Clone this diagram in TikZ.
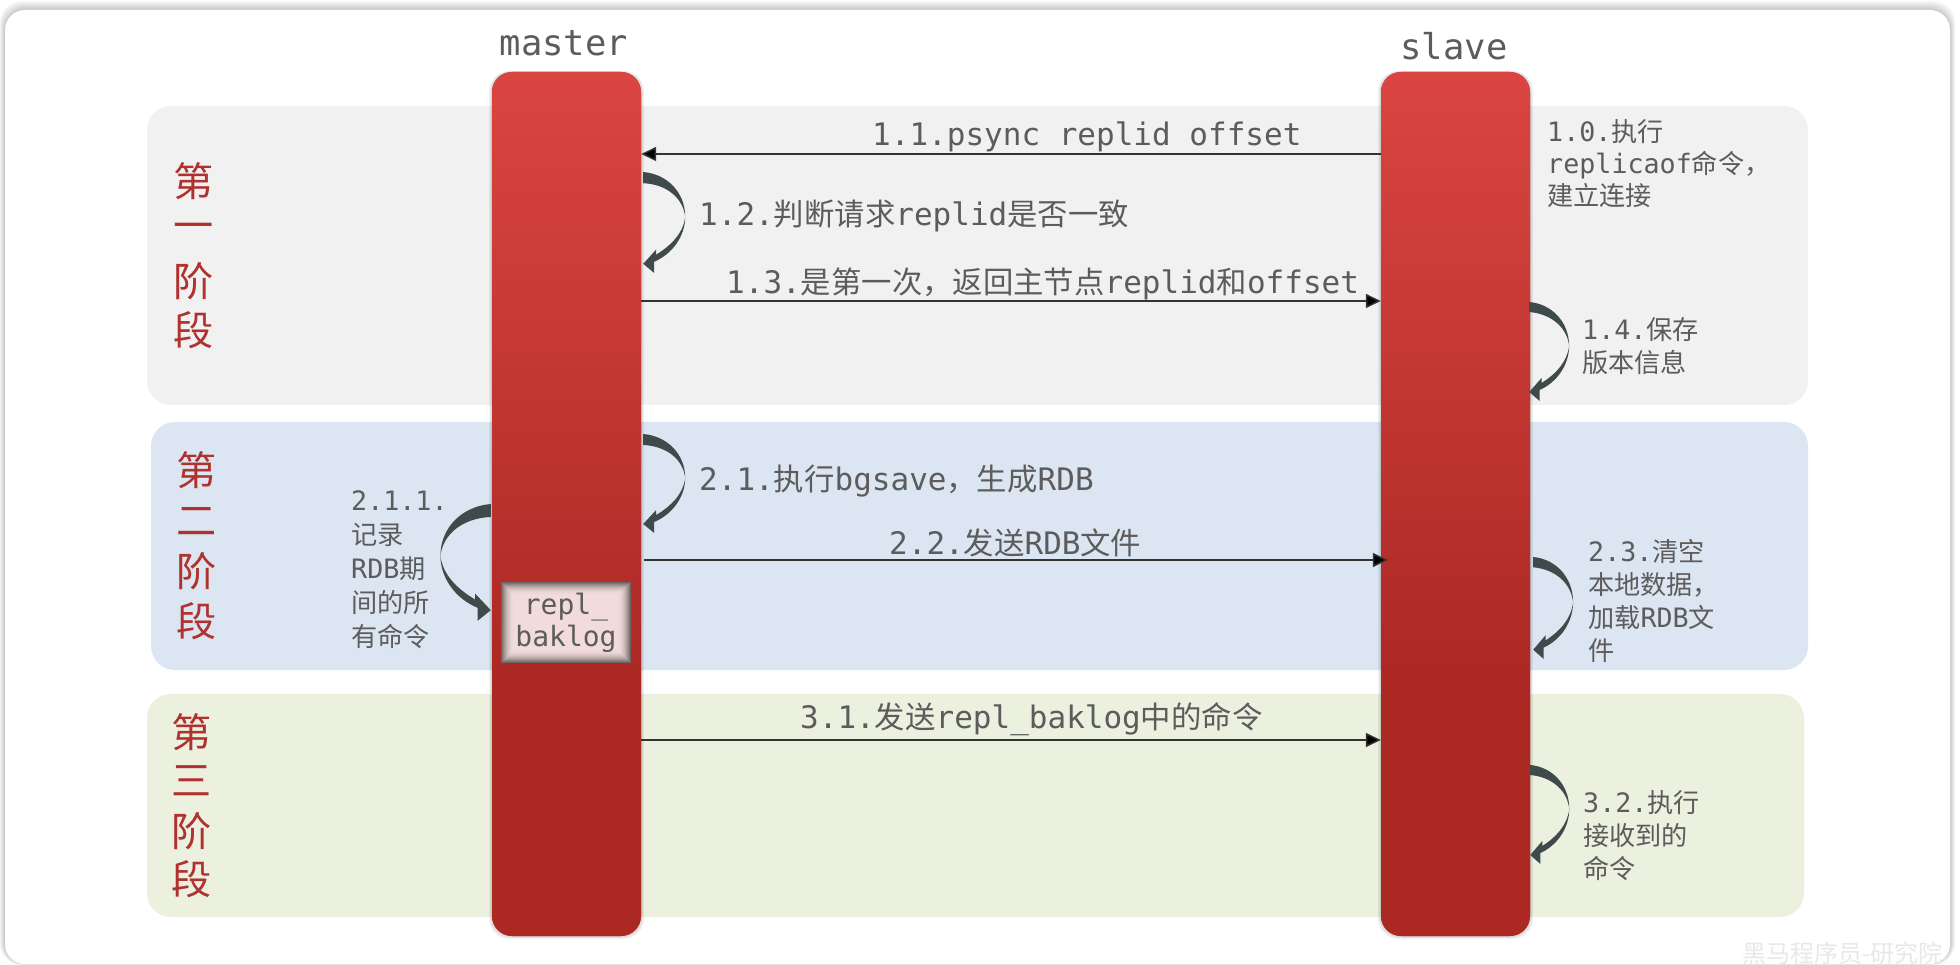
\documentclass[tikz,border=0pt]{standalone}
\usepackage{fontspec}
\setmainfont{DejaVu Sans Mono}
\newfontfamily\cjkf[Scale=0.98]{Noto Sans CJK SC}
\usetikzlibrary{arrows.meta,calc}
\newcommand\zh[1]{{\cjkf #1}}
\definecolor{bartop}{HTML}{DA4541}
\definecolor{barbot}{HTML}{AB2823}
\definecolor{barmid}{HTML}{C0352F}
\definecolor{txtgrey}{HTML}{5C5C5C}
\definecolor{stagered}{HTML}{B0322E}
\definecolor{loopdark}{HTML}{3F4B4A}
\definecolor{pinkfill}{HTML}{F2DCDB}
\definecolor{pinkedge}{HTML}{6E6462}
\definecolor{panelgrey}{HTML}{F1F1F1}
\definecolor{panelblue}{HTML}{DCE6F2}
\definecolor{panelgreen}{HTML}{EBF0DF}
\pgfdeclareverticalshading{barshade}{100bp}{color(0bp)=(barbot); color(39bp)=(barbot); color(75bp)=(bartop); color(100bp)=(bartop)}
\tikzset{
  panel/.style={fill=#1,rounded corners=24pt,draw=none},
  barnode/.style={shading=barshade,rounded corners=20pt,minimum width=149pt,minimum height=864pt,inner sep=0pt,draw=none},
  flow/.style={draw=black!80,line width=1.5pt,-{Triangle[length=15pt,width=14pt,fill=black]}},
  biglabel/.style={inner sep=0pt,anchor=base west,text=txtgrey,font=\fontsize{31}{36}\selectfont},
  sidelabel/.style={inner sep=0pt,anchor=north west,text=txtgrey,align=left,font=\fontsize{26.7}{33}\selectfont},
  headlabel/.style={inner sep=0pt,anchor=base,text=txtgrey,font=\fontsize{35.5}{40}\selectfont},
  stagechar/.style={inner sep=0pt,text=stagered,font=\cjkf\fontsize{41}{44}\selectfont},
  loopfill/.style={fill=loopdark,draw=none}
}
\newcommand\looparrow[4]{% origin coordinate, xscale, yscale
  \fill[loopfill,shift={(#1)},xscale=#2,yscale=#3]
    (0,0) .. controls (24,2) and (42,20) .. (42,44)
    .. controls (42,62) and (30,80) .. (11,88)
    -- (11,99) -- (0,90) -- (13,76) -- (13,81)
    .. controls (28,72) and (40,60) .. (42,44)
    .. controls (40,26) and (24,12) .. (0,#4) -- cycle;}
\begin{document}
\begin{tikzpicture}[x=1pt,y=-1pt]
\useasboundingbox (0,0) rectangle (1960,965);
\fill[white] (0,0) rectangle (1960,965);
% card shadow and card
\foreach \i in {0,...,9}{
  \fill[black,opacity=.022,rounded corners=22pt] ({5-\i*.6},{10-\i}) rectangle ({1950+\i*.6},{964+\i*.1});
}
\fill[white,rounded corners=20pt] (5,10) rectangle (1950,964);
% panels
\fill[panel=panelgrey] (147,106) rectangle (1808,405);
\fill[panel=panelblue] (151,422) rectangle (1808,670);
\fill[panel=panelgreen] (147,694) rectangle (1804,917);
% bar shadows and bar underlays
\foreach \x in {492,1381}{
  \foreach \i in {1,...,3}{
    \fill[black,opacity=.05,rounded corners=20pt] ({\x-\i},{72-\i*.3}) rectangle ({\x+149+\i},{936+\i});
  }
  \fill[barmid,rounded corners=20pt] (\x,72) rectangle ({\x+149},936);
}
% bars
\node[barnode] (master) at (566.5,504) {};
\node[barnode] (slave) at (1455.5,504) {};
\node[headlabel] (masterlabel) at (564,56) {master};
\node[headlabel] (slavelabel) at (1454,60) {slave};
% replication backlog
\node[inner sep=0pt,minimum width=130pt,minimum height=81pt,align=center,text=txtgrey,
  font=\fontsize{28}{33}\selectfont,
  path picture={
    \fill[pinkedge] (path picture bounding box.north west) rectangle (path picture bounding box.south east);
    \foreach \i in {1,...,13}{
      \pgfmathsetmacro\m{100*(1-(1-\i/13)*(1-\i/13))}
      \fill[pinkfill!\m!pinkedge] ($(path picture bounding box.north west)+(\i,\i)$) rectangle ($(path picture bounding box.south east)+(-\i,-\i)$);
    }
  }] (repl) at (566,622.5) {\raisebox{-3pt}{repl\_}\\\raisebox{-2pt}{baklog}};
% coordinates of connector heights
\coordinate (y11) at (0,154);
\coordinate (y13) at (0,301);
\coordinate (y22) at (0,560);
\coordinate (y31) at (0,740);
\draw[flow] (slave.west |- y11) -- (master.east |- y11);
\draw[flow] (master.east |- y13) -- (slave.west |- y13);
\draw[flow] ($(master.east |- y22)+(3,0)$) -- ($(slave.west |- y22)+(7,0)$);
\draw[flow] (master.east |- y31) -- (slave.west |- y31);
% self loops
\coordinate (l12) at ($(master.east |- 0,172)+(2,0)$);
\coordinate (l21) at ($(master.east |- 0,434)+(2,0)$);
\coordinate (l14) at ($(slave.east |- 0,302)+(-1,0)$);
\coordinate (l23) at ($(slave.east |- 0,557)+(3,0)$);
\coordinate (l32) at ($(slave.east |- 0,765)+(0,0)$);
\coordinate (l211) at ($(master.west |- 0,504)+(-1,0)$);
\looparrow{l12}{1}{1.02}{11}
\looparrow{l21}{1}{1}{11}
\looparrow{l14}{.95}{1}{10}
\looparrow{l23}{.95}{1.03}{10}
\looparrow{l32}{.93}{1}{10}
\looparrow{l211}{-1.2}{1.18}{11}
% message labels
\node[biglabel] (t11) at (872,146) {1.1.psync replid offset};
\node[biglabel] (t12) at (699,226) {1.2.\zh{判断请求}replid\zh{是否一致}};
\node[biglabel] (t13) at (726,294) {1.3.\zh{是第一次，返回主节点}replid\zh{和}offset};
\node[biglabel] (t21) at (699,490) {2.1.\zh{执行}bgsave\zh{，生成}RDB};
\node[biglabel] (t22) at (889,554) {2.2.\zh{发送}RDB\zh{文件}};
\node[biglabel] (t31) at (800,728) {3.1.\zh{发送}repl\_baklog\zh{中的命令}};
% side labels
\node[sidelabel,font=\fontsize{26.7}{32}\selectfont] (t10) at (1547,119) {1.0.\zh{执行}\\replicaof\zh{命令，}\\\zh{建立连接}};
\node[sidelabel] (t14) at (1582,317) {1.4.\zh{保存}\\\zh{版本信息}};
\node[sidelabel] (t23) at (1588,539) {2.3.\zh{清空}\\\zh{本地数据，}\\\zh{加载}RDB\zh{文}\\\zh{件}};
\node[sidelabel] (t32) at (1583,790) {3.2.\zh{执行}\\\zh{接收到的}\\\zh{命令}};
\node[sidelabel,font=\fontsize{26.7}{34}\selectfont] (t211) at (351,490) {2.1.1.\\\zh{记录}\\RDB\zh{期}\\\zh{间的所}\\\zh{有命令}};
% stage labels
\foreach \n/\c/\x/\y in {a1/第/194/181,a2/一/194/232,a3/阶/194/281,a4/段/194/330,
  b1/第/197/470,b2/二/197/521,b3/阶/197/571,b4/段/197/621,
  c1/第/192/732,c2/三/192/781,c3/阶/192/831,c4/段/192/879}{
  \node[stagechar] (\n) at (\x,\y) {\c};
}
% watermark
\node[inner sep=0pt,anchor=east,text=black!9,font=\cjkf\fontsize{24.5}{26}\selectfont] (mark) at (1943,953) {黑马程序员-研究院};
\end{tikzpicture}
\end{document}
